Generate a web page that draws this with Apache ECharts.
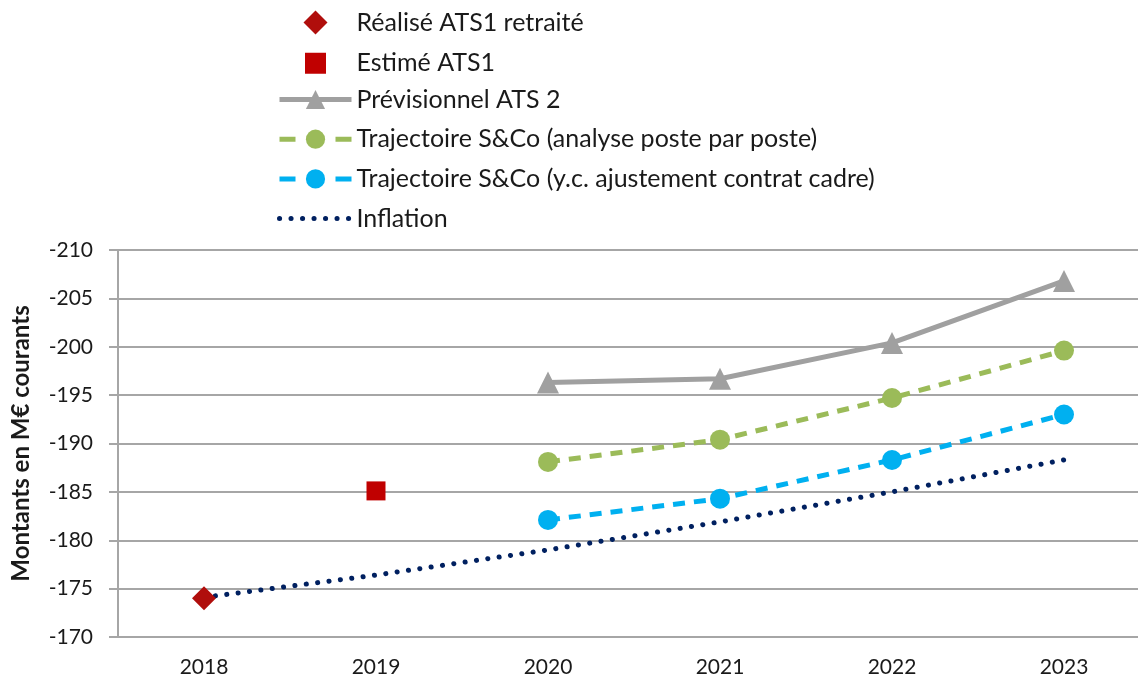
<!DOCTYPE html>
<html>
<head>
<meta charset="utf-8">
<script src="https://cdn.jsdelivr.net/npm/echarts@6/dist/echarts.min.js"></script>
<style>
  html, body { margin: 0; padding: 0; background: #fff; overflow: hidden; }
  /* the plot runs past the right edge of the picture, as in the reference */
  #chart { width: 1150px; height: 683px; }
</style>
</head>
<body>
<div id="chart"></div>
<script>
// categories and values
var years = ["2018", "2019", "2020", "2021", "2022", "2023"];
var realise = [-174.0, null, null, null, null, null];
var estime = [null, -185.1, null, null, null, null];
var previsionnel = [null, null, -196.3, -196.7, -200.4, -206.8];
var trajPoste = [null, null, -188.1, -190.4, -194.7, -199.6];
var trajCadre = [null, null, -182.1, -184.3, -188.3, -193.0];
var inflation = [-174.1, -176.4, -179.0, -181.9, -185.0, -188.3];

var font = "Lato";
var dash = [12, 9];
var dots = [0.1, 11.355];
var legendText = { fontSize: 25, color: "#1a1a1a", fontFamily: font, lineHeight: 24 };

function points(arr) {
  var out = [];
  for (var i = 0; i < arr.length; i++) {
    if (arr[i] !== null) out.push([i, arr[i]]);
  }
  return out;
}

var chart = echarts.init(document.getElementById("chart"));
var option = {
  animation: false,
  textStyle: { fontFamily: font },
  legend: [
    {
      // marker-only entries, icon centred on the line icons below
      orient: "vertical",
      left: 297,
      top: 5,
      itemWidth: 24,
      itemHeight: 24,
      itemGap: 14.7,
      textStyle: Object.assign({ padding: [0, 0, 0, 24] }, legendText),
      data: [
        { name: "Réalisé ATS1 retraité", icon: "diamond" },
        { name: "Estimé ATS1", icon: "rect", itemStyle: { borderWidth: 3, borderColor: "#fff" } }
      ]
    },
    {
      orient: "vertical",
      left: 272,
      top: 82,
      itemWidth: 72,
      itemHeight: 24,
      itemGap: 14.7,
      textStyle: legendText,
      data: [
        { name: "Prévisionnel ATS 2", lineStyle: { width: 5 } },
        { name: "Trajectoire S&Co (analyse poste par poste)", lineStyle: { width: 5, type: [16, 12] } },
        { name: "Trajectoire S&Co (y.c. ajustement contrat cadre)", lineStyle: { width: 5, type: [16, 12] } },
        {
          name: "Inflation",
          lineStyle: { width: 5, type: [0.1, 11.4], cap: "round" },
          itemStyle: { color: "rgba(0,0,0,0)", borderWidth: 0 }
        }
      ]
    }
  ],
  grid: { left: 118, right: 0, top: 250, bottom: 46 },
  xAxis: {
    type: "category",
    data: years,
    boundaryGap: true,
    axisLine: { lineStyle: { color: "#a6a6a6", width: 2 } },
    axisTick: { inside: true, length: 9, lineStyle: { color: "#a6a6a6", width: 2 } },
    axisLabel: { fontSize: 21, color: "#1a1a1a", margin: 20 }
  },
  yAxis: {
    type: "value",
    inverse: true,
    min: -210,
    max: -170,
    interval: 5,
    name: "Montants en M€ courants",
    nameLocation: "middle",
    nameGap: 85,
    nameTextStyle: { fontSize: 24, fontWeight: "bold", color: "#1a1a1a" },
    axisLine: { show: true, lineStyle: { color: "#a6a6a6", width: 2 } },
    axisTick: { show: true, length: 9, lineStyle: { color: "#a6a6a6", width: 2 } },
    axisLabel: { fontSize: 21, color: "#1a1a1a", margin: 25 },
    splitLine: { lineStyle: { color: "#a6a6a6", width: 2 } }
  },
  series: [
    {
      name: "Inflation",
      type: "line",
      data: points(inflation),
      symbol: "none",
      z: 1,
      lineStyle: { color: "#002060", width: 5, type: dots, cap: "round" },
      itemStyle: { color: "#002060" }
    },
    {
      name: "Réalisé ATS1 retraité",
      type: "scatter",
      data: points(realise),
      symbol: "diamond",
      symbolSize: 24,
      itemStyle: { color: "#b00e0c", opacity: 1 },
      z: 5
    },
    {
      name: "Estimé ATS1",
      type: "scatter",
      data: points(estime),
      symbol: "rect",
      symbolSize: 19,
      itemStyle: { color: "#c00000", opacity: 1 },
      z: 5
    },
    {
      name: "Prévisionnel ATS 2",
      type: "line",
      data: points(previsionnel),
      symbol: "triangle",
      symbolSize: 22,
      lineStyle: { color: "#a0a0a0", width: 5 },
      itemStyle: { color: "#a0a0a0" }
    },
    {
      name: "Trajectoire S&Co (analyse poste par poste)",
      type: "line",
      data: points(trajPoste),
      symbol: "circle",
      symbolSize: 20,
      lineStyle: { color: "#9bbb59", width: 5, type: dash },
      itemStyle: { color: "#9bbb59" }
    },
    {
      name: "Trajectoire S&Co (y.c. ajustement contrat cadre)",
      type: "line",
      data: points(trajCadre),
      symbol: "circle",
      symbolSize: 20,
      lineStyle: { color: "#00b0f0", width: 5, type: dash },
      itemStyle: { color: "#00b0f0" }
    }
  ]
};
option && chart.setOption(option);
</script>
</body>
</html>
